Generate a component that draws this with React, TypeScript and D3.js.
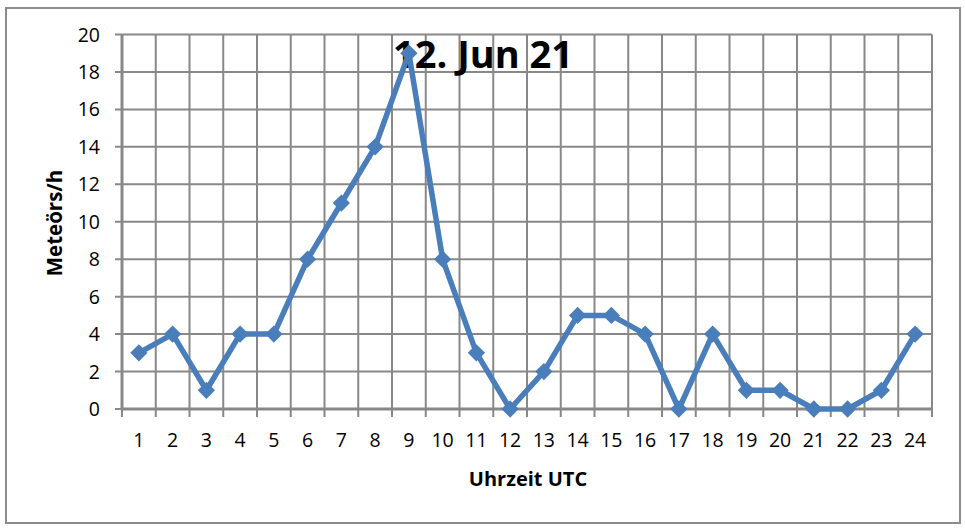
import * as d3 from 'd3';

const hours = ['1', '2', '3', '4', '5', '6', '7', '8', '9', '10', '11', '12', '13', '14', '15', '16', '17', '18', '19', '20', '21', '22', '23', '24'];
const meteors = [3, 4, 1, 4, 4, 8, 11, 14, 19, 8, 3, 0, 2, 5, 5, 4, 0, 4, 1, 1, 0, 0, 1, 4];
const yTicks = [0, 2, 4, 6, 8, 10, 12, 14, 16, 18, 20];

const W = 965;
const H = 529;
const left = 122;
const right = 932;
const top = 34.5;
const bottom = 409;
const font = 'Open Sans, Calibri, sans-serif';
const grid = '#888888';
const blue = '#4A7EBB';

export default function App() {
  const x = d3.scaleBand<string>().domain(hours).range([left, right]);
  const y = d3.scaleLinear().domain([0, 20]).range([bottom, top]);

  const line = d3.line<number>()
    .x((_, i) => (x(hours[i]) as number) + x.bandwidth() / 2)
    .y(d => y(d));

  const diamond = d3.symbol().type(d3.symbolDiamond2).size(190)();

  const bounds = hours.map(h => x(h) as number).concat([right]);

  return (
    <svg width={W} height={H} style={{ position: 'absolute', left: 0, top: 0, background: '#fff' }}>
      <rect x={6} y={8} width={954} height={515} fill="#fff" stroke="#8c8c8c" strokeWidth={2} />

      {/* horizontal grid + y ticks */}
      {yTicks.map(t => (
        <g key={'y' + t}>
          <line x1={left - 7} x2={right} y1={y(t)} y2={y(t)} stroke={grid} strokeWidth={2} />
          <text x={100} y={y(t)} dy="0.36em" textAnchor="end" fontFamily={font} fontSize={19.5} fill="#000">{t}</text>
        </g>
      ))}

      {/* vertical grid + x ticks */}
      {bounds.map((b, i) => (
        <line key={'x' + i} x1={b} x2={b} y1={top} y2={bottom + 8} stroke={grid} strokeWidth={2} />
      ))}
      {hours.map(h => (
        <text key={'l' + h} x={(x(h) as number) + x.bandwidth() / 2} y={447} textAnchor="middle" fontFamily={font} fontSize={19.5} fill="#000">{h}</text>
      ))}

      {/* axes */}
      <line x1={left} x2={left} y1={top} y2={bottom} stroke={grid} strokeWidth={3} />
      <line x1={left} x2={right} y1={bottom} y2={bottom} stroke={grid} strokeWidth={3} />

      {/* title sits under the series */}
      <text x={483} y={68} textAnchor="middle" fontFamily={font} fontWeight="bold" fontSize={38} fill="#000">12. Jun 21</text>

      <path d={line(meteors) as string} fill="none" stroke={blue} strokeWidth={5.5} strokeLinejoin="round" />
      {meteors.map((v, i) => (
        <path key={'m' + i} d={diamond as string}
          transform={`translate(${(x(hours[i]) as number) + x.bandwidth() / 2},${y(v)})`}
          fill={blue} />
      ))}

      <text transform={`translate(62,223) rotate(-90)`} textAnchor="middle" fontFamily={font} fontWeight="bold" fontSize={20.5} fill="#000">Meteörs/h</text>
      <text x={528} y={486} textAnchor="middle" fontFamily={font} fontWeight="bold" fontSize={20} fill="#000">Uhrzeit UTC</text>
    </svg>
  );
}
